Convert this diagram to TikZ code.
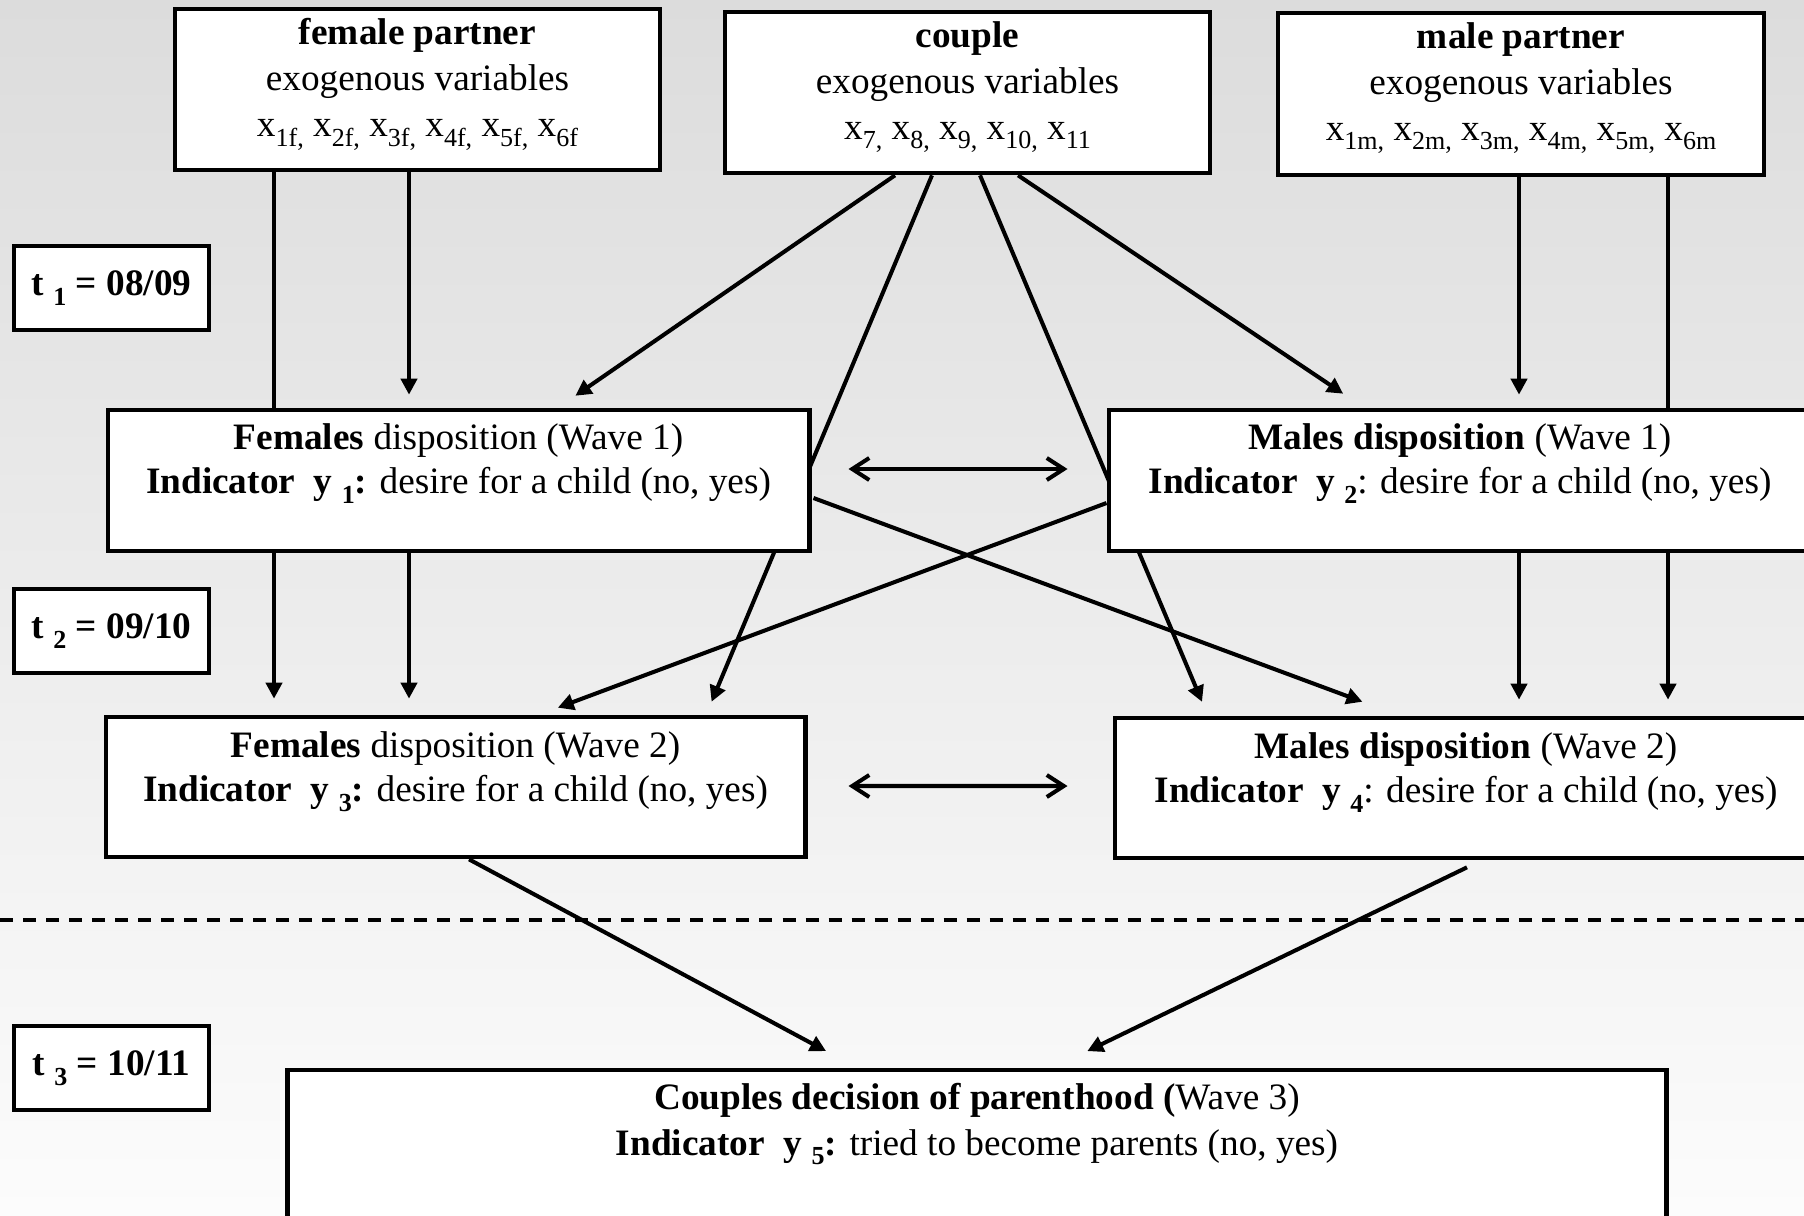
\documentclass[tikz,border=0pt]{standalone}
\usepackage{fontspec}
\setmainfont{Liberation Serif}
\usetikzlibrary{arrows.meta,calc}
\pgfdeclarelayer{bg}
\pgfdeclarelayer{behind}
\pgfsetlayers{bg,behind,main}
\definecolor{bgtop}{RGB}{220,220,220}
\definecolor{bgmid}{RGB}{237,237,237}
\definecolor{bgbot}{RGB}{252,252,252}
\newcommand{\lsub}[1]{\raisebox{-0.26em}{\fontsize{7.4}{8}\selectfont #1}}
\begin{document}
\begin{tikzpicture}[x=0.01cm,y=-0.01cm,
  box/.style={draw, line width=1.3pt, fill=white, inner sep=0pt},
  txt/.style={align=center, font=\fontsize{10.6}{12.5}\selectfont, inner sep=0pt},
  ttxt/.style={align=center, font=\fontsize{10.6}{13.1}\selectfont, inner sep=0pt},
  tbox/.style={box, minimum width=1.95cm, minimum height=0.84cm, font=\fontsize{10.6}{12.5}\selectfont\bfseries},
  arr/.style={line width=1.15pt, -{Triangle[length=0.16cm,width=0.16cm]}},
  ln/.style={line width=1.15pt},
  dbl/.style={line width=1.15pt, line cap=round, {Straight Barb[length=0.17cm,width=0.22cm]}-{Straight Barb[length=0.17cm,width=0.22cm]}},
  sep/.style={line width=1.1pt, dash pattern=on 0.13cm off 0.1cm},
]
\useasboundingbox (0,0) rectangle (1804,1215);
\clip (0,0) rectangle (1804,1215);
\begin{pgfonlayer}{bg}
\shade[top color=bgtop, middle color=bgmid, bottom color=bgbot] (0,0) rectangle (1804,1215);
\end{pgfonlayer}

% dashed separator
\coordinate (sepL) at (0,920);
\coordinate (sepR) at (1804,920);
\draw[sep] (sepL) -- (sepR);

% boxes
\node[box, minimum width=4.85cm, minimum height=1.61cm] (fp) at (417.5,89.5) {};
\node[box, minimum width=4.85cm, minimum height=1.61cm] (cp) at (967.5,92.5) {};
\node[box, minimum width=4.86cm, minimum height=1.62cm] (mp) at (1521,94) {};
\node[box, minimum width=7.01cm, minimum height=1.41cm] (fw1) at (458.5,480.5) {};
\node[box, minimum width=7.02cm, minimum height=1.41cm] (mw1) at (1460,480.5) {};
\node[box, minimum width=6.99cm, minimum height=1.40cm] (fw2) at (455.5,787) {};
\node[box, minimum width=7.02cm, minimum height=1.40cm] (mw2) at (1466,788) {};
\node[box, minimum width=13.78cm, minimum height=1.90cm] (bot) at (977,1165) {};

\node[tbox] (t1) at (111.5,288) {\raisebox{-1pt}{t \lsub{1} = 08/09}};
\node[tbox] (t2) at (111.5,631) {\raisebox{-1pt}{t \lsub{2} = 09/10}};
\node[tbox] (t3) at (111.5,1068) {\raisebox{-1pt}{t \lsub{3} = 10/11}};

% texts
\node[ttxt] (fpt) at ([yshift=0.05cm]fp.center) {\textbf{female partner}\\ exogenous variables\\ x\lsub{1f,} x\lsub{2f,} x\lsub{3f,} x\lsub{4f,} x\lsub{5f,} x\lsub{6f}};
\node[ttxt] (cpt) at ([yshift=0.055cm]cp.center) {\textbf{couple}\\ exogenous variables\\ x\lsub{7,} x\lsub{8,} x\lsub{9,} x\lsub{10,} x\lsub{11}};
\node[ttxt] (mpt) at ([yshift=0.06cm]mp.center) {\textbf{male partner}\\ exogenous variables\\ x\lsub{1m,} x\lsub{2m,} x\lsub{3m,} x\lsub{4m,} x\lsub{5m,} x\lsub{6m}};
\node[txt] (fw1t) at ([yshift=0.17cm]fw1.center) {\textbf{Females} disposition (Wave 1)\\ \textbf{Indicator\ \ y \lsub{1}:} desire for a child (no, yes)};
\node[txt] (mw1t) at ([yshift=0.17cm]mw1.center) {\textbf{Males disposition} (Wave 1)\\ \textbf{Indicator\ \ y \lsub{2}}: desire for a child (no, yes)};
\node[txt] (fw2t) at ([yshift=0.155cm]fw2.center) {\textbf{Females} disposition (Wave 2)\\ \textbf{Indicator\ \ y \lsub{3}:} desire for a child (no, yes)};
\node[txt] (mw2t) at ([yshift=0.155cm]mw2.center) {\textbf{Males disposition} (Wave 2)\\ \textbf{Indicator\ \ y \lsub{4}}: desire for a child (no, yes)};
\node[ttxt, anchor=center] (bott) at (977,1124) {\textbf{Couples decision of parenthood (}Wave 3)\\ \textbf{Indicator\ \ y \lsub{5}:} tried to become parents (no, yes)};

% column guides
\coordinate (c1) at (274,0);
\coordinate (c2) at (409,0);
\coordinate (c3) at (1519,0);
\coordinate (c4) at (1668,0);

% vertical connectors
\draw[ln] (fp.south -| c1) -- (fw1.north -| c1);
\draw[arr, shorten >=0.13cm] (fp.south -| c2) -- (fw1.north -| c2);
\draw[arr, shorten >=0.16cm] (fw1.south -| c1) -- (fw2.north -| c1);
\draw[arr, shorten >=0.16cm] (fw1.south -| c2) -- (fw2.north -| c2);
\draw[arr, shorten >=0.13cm] (mp.south -| c3) -- (mw1.north -| c3);
\draw[ln] (mp.south -| c4) -- (mw1.north -| c4);
\draw[arr, shorten >=0.16cm] (mw1.south -| c3) -- (mw2.north -| c3);
\draw[arr, shorten >=0.16cm] (mw1.south -| c4) -- (mw2.north -| c4);

% couple connectors
\draw[arr, shorten >=0.21cm] ([xshift=-0.725cm]cp.south) -- ([xshift=0.995cm]fw1.north);
\draw[arr, shorten >=0.25cm] ([xshift=0.505cm]cp.south) -- ([xshift=-0.96cm]mw1.north);
\begin{pgfonlayer}{behind}
\draw[arr, shorten >=0.14cm] ([xshift=-0.355cm]cp.south) -- ([xshift=2.505cm]fw2.north);
\draw[arr, shorten >=0.15cm] ([xshift=0.125cm]cp.south) -- ([xshift=-2.58cm]mw2.north);
\end{pgfonlayer}

% cross connectors
\draw[arr, shorten >=0.40cm] ([xshift=0.02cm,yshift=-0.175cm]fw1.east) -- ([xshift=-0.66cm]mw2.north);
\draw[arr, shorten >=0.20cm] ([yshift=-0.225cm]mw1.west) -- ([xshift=0.835cm]fw2.north);

% double arrows
\draw[dbl] ([xshift=0.37cm,yshift=0.115cm]fw1.east) -- ([xshift=-0.39cm,yshift=0.115cm]mw1.west);
\draw[dbl] ([xshift=0.41cm,yshift=0.01cm]fw2.east) -- ([xshift=-0.45cm,yshift=0.02cm]mw2.west);

% to final decision
\draw[arr, shorten >=0.35cm] ([xshift=0.135cm]fw2.south) -- ([xshift=-1.2cm]bot.north);
\draw[arr, shorten >=0.38cm] ([xshift=0.01cm,yshift=-0.07cm]mw2.south) -- ([xshift=0.76cm]bot.north);
\end{tikzpicture}
\end{document}
